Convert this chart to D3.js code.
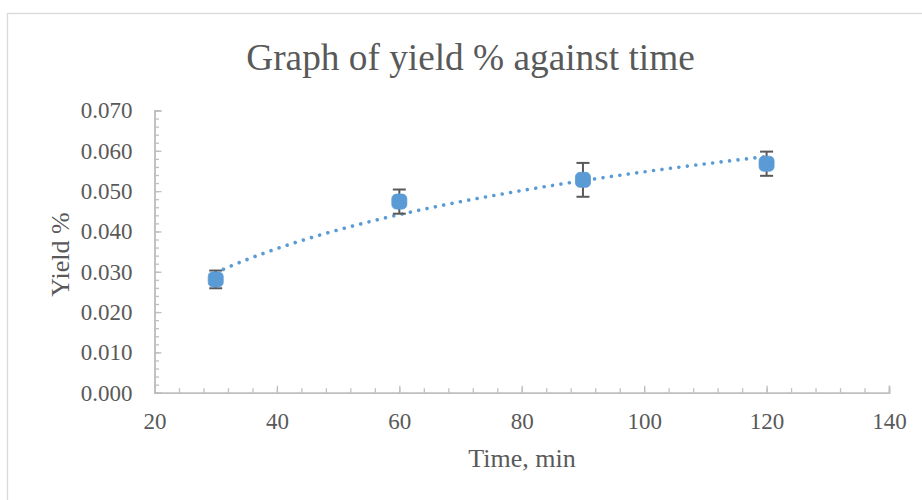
<!DOCTYPE html>
<html>
<head>
<meta charset="utf-8">
<script src="https://cdn.jsdelivr.net/npm/d3@7"></script>
<style>
  body { margin: 0; background: #fff; }
  svg text { font-family: "Liberation Serif", "Times New Roman", serif; fill: #595959; }
</style>
</head>
<body>
<div id="chart"></div>
<script>
// Data
const times = [30, 60, 90, 120];
const yieldPct = [0.0281, 0.0474, 0.0528, 0.0568];
const yieldErr = [0.0022, 0.0030, 0.0042, 0.0030];
const xTicks = [20, 40, 60, 80, 100, 120, 140];
const yTicks = [0, 0.01, 0.02, 0.03, 0.04, 0.05, 0.06, 0.07];

const width = 922, height = 500;

let svg = d3.select("#chart").append("svg")
    .attr("width", width)
    .attr("height", height);

// Chart border (runs off the right and bottom edges)
svg.append("rect")
    .attr("x", 7.5).attr("y", 13.5)
    .attr("width", 940).attr("height", 520)
    .attr("fill", "#fff")
    .attr("stroke", "#d9d9d9")
    .attr("stroke-width", 1.3);

let xScale = d3.scaleLinear().domain([20, 140]).range([154.5, 889]);
let yScale = d3.scaleLinear().domain([0, 0.07]).range([392.7, 110.5]);

let points = times.map((t, i) => ({ t: t, y: yieldPct[i], e: yieldErr[i] }));

//Minor ticks first, then major ticks on top
function styleAxis(g) {
    g.select(".domain").attr("stroke", "#bfbfbf").attr("stroke-width", 1.5);
    g.selectAll(".tick line").attr("stroke", "#bfbfbf").attr("stroke-width", 1.3);
}

svg.append("g")
    .attr("transform", "translate(0," + yScale(0) + ")")
    .call(d3.axisBottom(xScale).tickValues(d3.range(20, 141, 4)).tickSize(-4.5).tickFormat(""))
    .call(styleAxis);

svg.append("g")
    .attr("transform", "translate(" + xScale(20) + ",0)")
    .call(d3.axisLeft(yScale).tickValues(d3.range(0, 0.0701, 0.002)).tickSize(-4.5).tickFormat(""))
    .call(styleAxis);

let xAxis = svg.append("g")
    .attr("transform", "translate(0," + yScale(0) + ")")
    .call(d3.axisBottom(xScale).tickValues(xTicks).tickSize(-7).tickPadding(20).tickFormat(d3.format("d")))
    .call(styleAxis);
xAxis.selectAll("text").style("font-size", "23px").attr("fill", "#595959");

let yAxis = svg.append("g")
    .attr("transform", "translate(" + xScale(20) + ",0)")
    .call(d3.axisLeft(yScale).tickValues(yTicks).tickSize(-7).tickPadding(22).tickFormat(d3.format(".3f")))
    .call(styleAxis);
yAxis.selectAll("text").style("font-size", "23px").attr("fill", "#595959");

// Logarithmic trendline fitted to the points
let lx = times.map(Math.log);
let mx = d3.mean(lx), my = d3.mean(yieldPct);
let a = d3.sum(lx, (v, i) => (v - mx) * (yieldPct[i] - my)) / d3.sum(lx, v => (v - mx) * (v - mx));
let b = my - a * mx;
let trend = d3.range(times[0], times[times.length - 1] + 0.5, 1).map(t => [t, a * Math.log(t) + b]);

svg.append("path")
    .datum(trend)
    .attr("fill", "none")
    .attr("stroke", "#5b9bd5")
    .attr("stroke-width", 3.6)
    .attr("stroke-linecap", "round")
    .attr("stroke-dasharray", "0.01 8.5")
    .attr("d", d3.line().x(d => xScale(d[0])).y(d => yScale(d[1])));

// Error bars
let err = svg.append("g").attr("stroke", "#595959").attr("stroke-width", 2);
points.forEach(d => {
    let cx = xScale(d.t);
    err.append("line")
        .attr("x1", cx).attr("x2", cx)
        .attr("y1", yScale(d.y - d.e)).attr("y2", yScale(d.y + d.e));
    [d.y - d.e, d.y + d.e].forEach(v => {
        err.append("line")
            .attr("x1", cx - 6.5).attr("x2", cx + 6.5)
            .attr("y1", yScale(v)).attr("y2", yScale(v));
    });
});

// Square markers
svg.selectAll("rect.marker")
    .data(points)
    .enter().append("rect")
    .attr("class", "marker")
    .attr("x", d => xScale(d.t) - 7.5)
    .attr("y", d => yScale(d.y) - 7.5)
    .attr("width", 15).attr("height", 15)
    .attr("rx", 4.5)
    .attr("fill", "#5b9bd5")
    .attr("stroke", "#5b9bd5")
    .attr("stroke-width", 0.8);

// Titles
svg.append("text")
    .attr("x", 470.5).attr("y", 70)
    .attr("text-anchor", "middle")
    .style("font-size", "37.3px")
    .text("Graph of yield % against time");

svg.append("text")
    .attr("x", 522).attr("y", 467)
    .attr("text-anchor", "middle")
    .style("font-size", "26px")
    .text("Time, min");

svg.append("text")
    .attr("transform", "rotate(-90)")
    .attr("x", -(yScale(0) + yScale(0.07)) / 2 - 3)
    .attr("y", 69)
    .attr("text-anchor", "middle")
    .style("font-size", "26px")
    .text("Yield %");
</script>
</body>
</html>
